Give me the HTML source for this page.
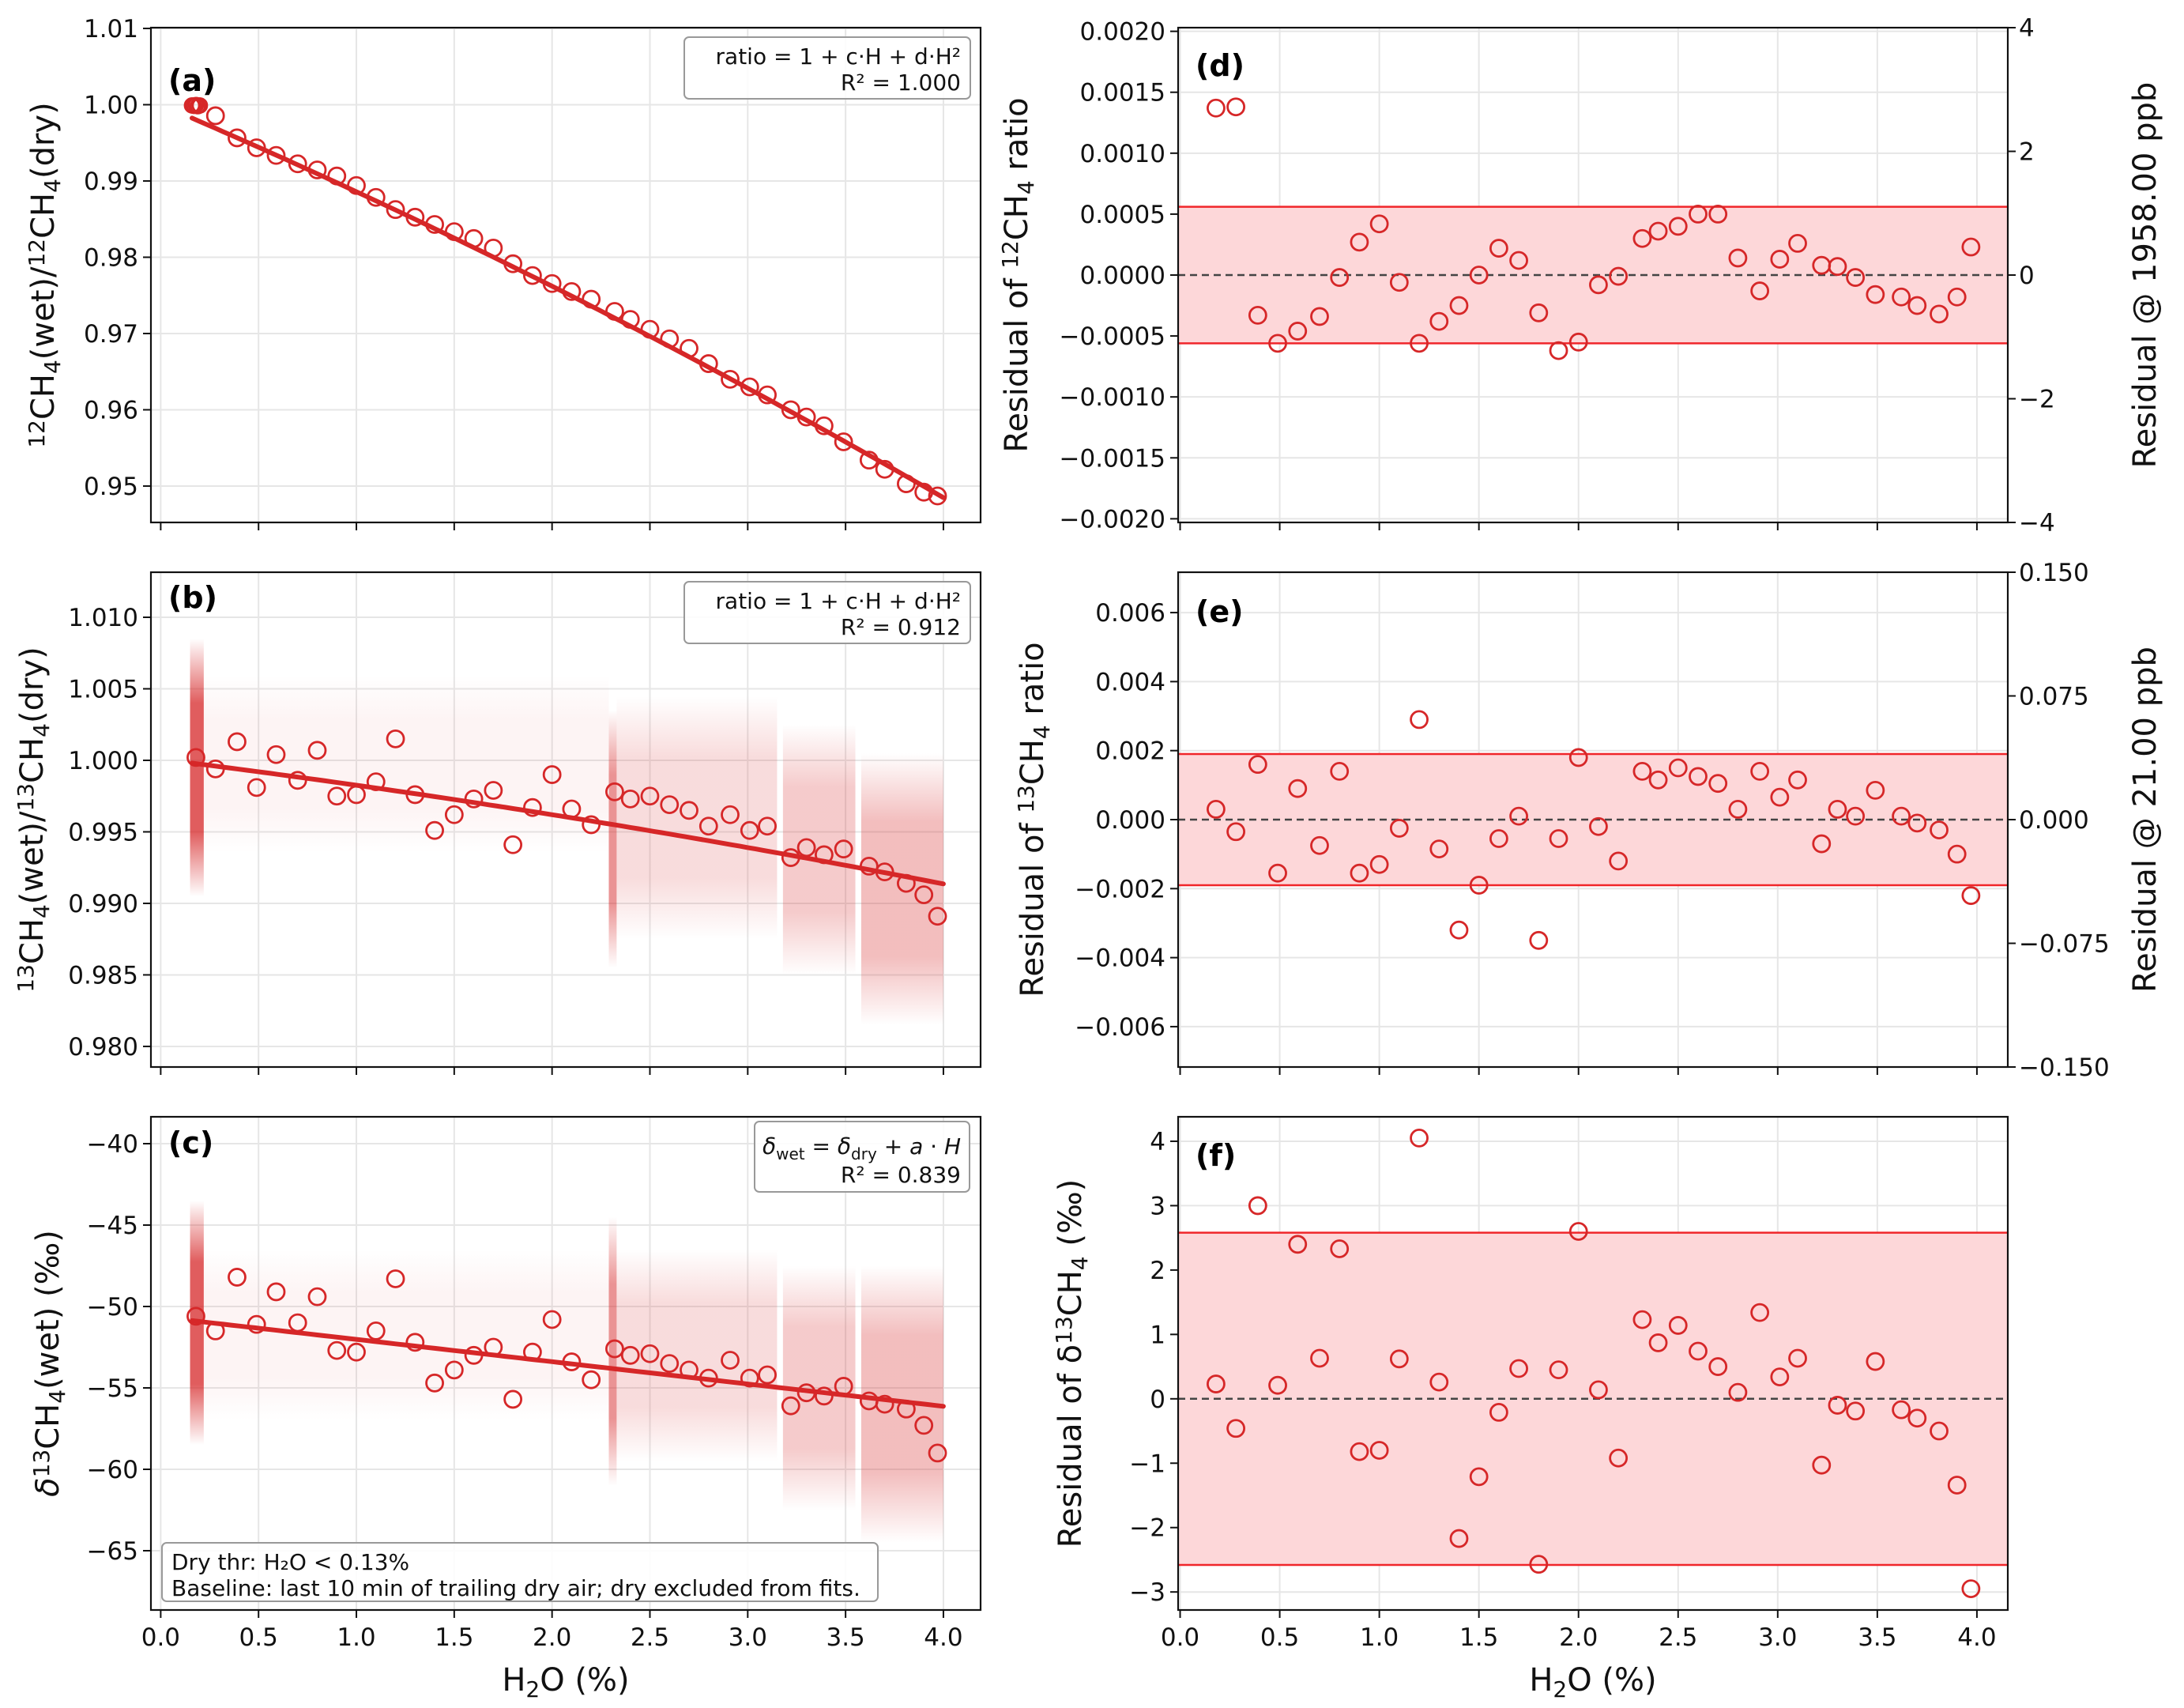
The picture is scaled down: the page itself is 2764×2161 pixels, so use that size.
<!DOCTYPE html>
<html><head><meta charset="utf-8">
<style>
html,body{margin:0;padding:0;background:#fff;}
svg{display:block;font-family:"DejaVu Sans","Liberation Sans",sans-serif;}
</style></head>
<body>
<svg id="fig" xmlns="http://www.w3.org/2000/svg" width="2764" height="2161" viewBox="0 0 2764 2161">
<defs>
<linearGradient id="fade" x1="0" y1="0" x2="0" y2="1">
<stop offset="0" stop-color="#d62728" stop-opacity="0"/>
<stop offset="0.25" stop-color="#d62728" stop-opacity="1"/>
<stop offset="0.75" stop-color="#d62728" stop-opacity="1"/>
<stop offset="1" stop-color="#d62728" stop-opacity="0"/>
</linearGradient>
</defs>
</svg>
<script>
// ---------- data ----------
const binH2O = [0.18,0.28,0.39,0.49,0.59,0.70,0.80,0.90,1.00,1.10,1.20,1.30,1.40,1.50,1.60,1.70,1.80,1.90,2.00,2.10,2.20,2.32,2.40,2.50,2.60,2.70,2.80,2.91,3.01,3.10,3.22,3.30,3.39,3.49,3.62,3.70,3.81,3.90,3.97];
const resid12 = [0.00137,0.00138,-0.00033,-0.00056,-0.00046,-0.00034,-0.00002,0.00027,0.00042,-0.00006,-0.00056,-0.00038,-0.00025,0.0,0.00022,0.00012,-0.00031,-0.00062,-0.00055,-0.00008,-0.00001,0.00030,0.00036,0.00040,0.00050,0.00050,0.00014,-0.00013,0.00013,0.00026,0.00008,0.00007,-0.00002,-0.00016,-0.00018,-0.00025,-0.00032,-0.00018,0.00023];
const resid13 = [0.0003,-0.00035,0.0016,-0.00155,0.0009,-0.00075,0.0014,-0.00155,-0.0013,-0.00025,0.0029,-0.00085,-0.0032,-0.0019,-0.00055,0.0001,-0.0035,-0.00055,0.0018,-0.0002,-0.0012,0.0014,0.00115,0.0015,0.00125,0.00105,0.0003,0.0014,0.00065,0.00115,-0.0007,0.0003,0.0001,0.00085,0.0001,-0.0001,-0.0003,-0.001,-0.0022];
const residDelta = [0.23,-0.46,3.0,0.21,2.4,0.63,2.33,-0.82,-0.8,0.62,4.05,0.26,-2.17,-1.21,-0.21,0.47,-2.57,0.45,2.6,0.14,-0.92,1.23,0.87,1.14,0.74,0.5,0.1,1.34,0.34,0.63,-1.03,-0.1,-0.19,0.58,-0.17,-0.3,-0.5,-1.34,-2.95];
const ratio12 = [0.99995,0.99855,0.99565,0.99435,0.99335,0.99225,0.99145,0.99065,0.98940,0.98785,0.98625,0.98525,0.98430,0.98335,0.98245,0.98120,0.97915,0.97760,0.97655,0.97550,0.97450,0.97290,0.97185,0.97055,0.96930,0.96805,0.96605,0.96400,0.96300,0.96195,0.96000,0.95905,0.95790,0.95580,0.95340,0.95220,0.95030,0.94920,0.94870];
const ratio13 = [1.0002,0.9994,1.0013,0.9981,1.0004,0.9986,1.0007,0.9975,0.9976,0.9985,1.0015,0.9976,0.9951,0.9962,0.9973,0.9979,0.9941,0.9967,0.9990,0.9966,0.9955,0.9978,0.9973,0.9975,0.9969,0.9965,0.9954,0.9962,0.9951,0.9954,0.9932,0.9939,0.9934,0.9938,0.9926,0.9922,0.9914,0.9906,0.9891];
const deltaWet = [-50.6,-51.5,-48.2,-51.1,-49.1,-51.0,-49.4,-52.7,-52.8,-51.5,-48.3,-52.2,-54.7,-53.9,-53.0,-52.5,-55.7,-52.8,-50.8,-53.4,-54.5,-52.6,-53.0,-52.9,-53.5,-53.9,-54.4,-53.3,-54.4,-54.2,-56.1,-55.3,-55.5,-54.9,-55.8,-56.0,-56.3,-57.3,-59.0];
const dryH2O = [0.16,0.17,0.18,0.19,0.20];
const dry12 = [0.99990,0.99985,0.99995,0.99980,0.99990];
// fit coefficients
const fit12 = [1, -0.01092, -0.00049];
const fit13 = [1.00008, -0.0017, -0.00012];
const fitDelta = [-50.65, -1.37];
// cloud clusters (H2O range, value range, density)
const cloudX0 = [0.15,2.29,2.33,3.18,3.58,0.20];
const cloudX1 = [0.22,2.33,3.15,3.55,4.00,2.29];
const cloud13Lo = [0.9905,0.9855,0.9875,0.9850,0.9815,0.9935];
const cloud13Hi = [1.0085,1.0035,1.0045,1.0025,1.0005,1.0060];
const cloudDLo = [-58.5,-61,-59.5,-62.5,-64.5,-57];
const cloudDHi = [-43.5,-44.5,-46.5,-47.5,-47.5,-46.5];
const cloudAlpha = [0.75,0.5,0.16,0.24,0.3,0.05];
// bands
const band12 = 0.00056, band13 = 0.0019, bandDelta = 2.58;
// ticks
const xTicks = [0.0,0.5,1.0,1.5,2.0,2.5,3.0,3.5,4.0];
const xTickLabels = ["0.0","0.5","1.0","1.5","2.0","2.5","3.0","3.5","4.0"];
const aTicks = [0.95,0.96,0.97,0.98,0.99,1.00,1.01];
const aLabels = ["0.95","0.96","0.97","0.98","0.99","1.00","1.01"];
const bTicks = [0.980,0.985,0.990,0.995,1.000,1.005,1.010];
const bLabels = ["0.980","0.985","0.990","0.995","1.000","1.005","1.010"];
const cTicks = [-65,-60,-55,-50,-45,-40];
const cLabels = ["\u221265","\u221260","\u221255","\u221250","\u221245","\u221240"];
const dTicks = [-0.002,-0.0015,-0.001,-0.0005,0,0.0005,0.001,0.0015,0.002];
const dLabels = ["\u22120.0020","\u22120.0015","\u22120.0010","\u22120.0005","0.0000","0.0005","0.0010","0.0015","0.0020"];
const dRTicks = [-4,-2,0,2,4];
const dRLabels = ["\u22124","\u22122","0","2","4"];
const eTicks = [-0.006,-0.004,-0.002,0,0.002,0.004,0.006];
const eLabels = ["\u22120.006","\u22120.004","\u22120.002","0.000","0.002","0.004","0.006"];
const eRTicks = [-0.15,-0.075,0,0.075,0.15];
const eRLabels = ["\u22120.150","\u22120.075","0.000","0.075","0.150"];
const fTicks = [-3,-2,-1,0,1,2,3,4];
const fLabels = ["\u22123","\u22122","\u22121","0","1","2","3","4"];

// ---------- drawing ----------
const NS = "http://www.w3.org/2000/svg";
const svg = document.getElementById('fig');
const RED = "#d62728";
function el(tag, attrs, parent){
  const e = document.createElementNS(NS, tag);
  for (const k in attrs) e.setAttribute(k, attrs[k]);
  (parent||svg).appendChild(e);
  return e;
}
function txt(s, attrs, parent){ const t = el('text', attrs, parent); t.textContent = s; return t; }

function panel(cfg){
  const g = el('g', {});
  
  
  const X = v => cfg.x0 + (v - cfg.xmin) / (cfg.xmax - cfg.xmin) * (cfg.x1 - cfg.x0);
  const Y = v => cfg.y1 - (v - cfg.ymin) / (cfg.ymax - cfg.ymin) * (cfg.y1 - cfg.y0);
  const grid = el('g', {}, g);
  
  
  xTicks.forEach(t => el('line', {x1:X(t), x2:X(t), y1:cfg.y0, y2:cfg.y1, stroke:'#e6e6e6', 'stroke-width':2}, grid));
  cfg.yTicks.forEach(t => el('line', {x1:cfg.x0, x2:cfg.x1, y1:Y(t), y2:Y(t), stroke:'#e6e6e6', 'stroke-width':2}, grid));
  return {g, X, Y, cfg};
}
function finishPanel(p, showXLabels){
  const {g, X, Y, cfg} = p;
  const frame = el('rect', {x:cfg.x0, y:cfg.y0, width:cfg.x1-cfg.x0, height:cfg.y1-cfg.y0, fill:'none', stroke:'#111', 'stroke-width':2.2}, g);
  
  
  const xa = el('g', {}, g);
  
  
  xTicks.forEach((t,i) => {
    el('line', {x1:X(t), x2:X(t), y1:cfg.y1, y2:cfg.y1+10, stroke:'#111', 'stroke-width':2}, xa);
    if (showXLabels) {
      const lb = txt(xTickLabels[i], {x:X(t), y:cfg.y1+45, 'font-size':31, 'text-anchor':'middle', fill:'#111'}, xa);
      
      
    }
  });
  const ya = el('g', {}, g);
  
  
  cfg.yTicks.forEach((t,i) => {
    el('line', {x1:cfg.x0-10, x2:cfg.x0, y1:Y(t), y2:Y(t), stroke:'#111', 'stroke-width':2}, ya);
    const lb = txt(cfg.yLabels[i], {x:cfg.x0-16, y:Y(t)+11, 'font-size':31, 'text-anchor':'end', fill:'#111'}, ya);
    
    
  });
  if (cfg.rTicks) {
    const ra = el('g', {}, g);
    
    
    const RY = v => cfg.y1 - (v - cfg.rmin)/(cfg.rmax-cfg.rmin)*(cfg.y1-cfg.y0);
    cfg.rTicks.forEach((t,i) => {
      el('line', {x1:cfg.x1, x2:cfg.x1+10, y1:RY(t), y2:RY(t), stroke:'#111', 'stroke-width':2}, ra);
      const lb = txt(cfg.rLabels[i], {x:cfg.x1+14, y:RY(t)+11, 'font-size':31, 'text-anchor':'start', fill:'#111'}, ra);
      
      
    });
    const rl = el('text', {transform:`translate(${cfg.rLabelX},${(cfg.y0+cfg.y1)/2}) rotate(-90)`, 'font-size':40, 'text-anchor':'middle', fill:'#111'}, ra);
    rl.textContent = cfg.rLabel;
    
    
  }
  const yl = el('text', {transform:`translate(${cfg.yLabelX},${(cfg.y0+cfg.y1)/2}) rotate(-90)`, 'font-size':40, 'text-anchor':'middle', fill:'#111'}, g);
  yl.innerHTML = cfg.yLabel;
  
  
  const pl = txt(cfg.tag, {x:cfg.x0+22, y:cfg.tagY, 'font-size':38, 'font-weight':'bold', fill:'#000'}, g);
  
  
  if (showXLabels) {
    const xl = el('text', {x:(cfg.x0+cfg.x1)/2, y:cfg.y1+102, 'font-size':40, 'text-anchor':'middle', fill:'#111'}, g);
    xl.innerHTML = 'H<tspan font-size="28" dy="8">2</tspan><tspan dy="-8">O (%)</tspan>';
    
    
  }
}
function circles(p, xs, ys, name, r){
  const grp = el('g', {}, p.g);
  
  
  xs.forEach((x,i) => {
    const c = el('circle', {cx:p.X(x), cy:p.Y(ys[i]), r:r||10.5, fill:'none', stroke:RED, 'stroke-width':2.8}, grp);
    
    
  });
}
function fitLine(p, fn, name){
  let d = '';
  for (let h = 0.16; h <= 4.001; h += 0.04) d += (d ? 'L' : 'M') + p.X(h).toFixed(1) + ',' + p.Y(fn(h)).toFixed(1);
  const l = el('path', {d, fill:'none', stroke:RED, 'stroke-width':6, 'stroke-linecap':'round'}, p.g);
  
  
}
function cloud(p, lo, hi, name){
  const grp = el('g', {}, p.g);
  
  
  cloudX0.forEach((x0,i) => {
    const r = el('rect', {x:p.X(x0), y:p.Y(hi[i]), width:p.X(cloudX1[i])-p.X(x0), height:p.Y(lo[i])-p.Y(hi[i]), fill:'url(#fade)', opacity:cloudAlpha[i]}, grp);
    
    
  });
}
function band(p, b, name){
  const grp = el('g', {}, p.g);
  
  
  el('rect', {x:p.cfg.x0, y:p.Y(b), width:p.cfg.x1-p.cfg.x0, height:p.Y(-b)-p.Y(b), fill:'#fdd7d9'}, grp);
  el('line', {x1:p.cfg.x0, x2:p.cfg.x1, y1:p.Y(b), y2:p.Y(b), stroke:'#f0262a', 'stroke-width':2.5}, grp);
  el('line', {x1:p.cfg.x0, x2:p.cfg.x1, y1:p.Y(-b), y2:p.Y(-b), stroke:'#f0262a', 'stroke-width':2.5}, grp);
  el('line', {x1:p.cfg.x0, x2:p.cfg.x1, y1:p.Y(0), y2:p.Y(0), stroke:'#444', 'stroke-width':2.5, 'stroke-dasharray':'9,6'}, grp);
}
function box(g, x, y, w, h, lines, name, anchor){
  const grp = el('g', {}, g);
  
  
  el('rect', {x, y, width:w, height:h, rx:6, fill:'#fff', 'fill-opacity':0.85, stroke:'#999', 'stroke-width':2}, grp);
  lines.forEach((s,i) => {
    const t = el('text', {x: anchor==='end' ? x+w-12 : x+12, y: y+34+i*33, 'font-size':28, 'text-anchor':anchor||'end', fill:'#111'}, grp);
    t.innerHTML = s;
  });
}

const L0 = 191, L1 = 1241, LXMIN = -0.05, LXMAX = 4.19;
const R0 = 1491, R1 = 2541, RXMIN = -0.01, RXMAX = 4.155;
const ROWS = [[35,661],[724,1350],[1413,2037]];

// (a)
const pa = panel({name:'panel-a-12ch4-ratio', x0:L0, x1:L1, y0:ROWS[0][0], y1:ROWS[0][1], xmin:LXMIN, xmax:LXMAX, ymin:0.94523, ymax:1.0101, yTicks:aTicks});
fitLine(pa, h => fit12[0] + fit12[1]*h + fit12[2]*h*h, 'fit-line');
circles(pa, binH2O.slice(1), ratio12.slice(1), 'binned-points');
circles(pa, dryH2O, dry12, 'dry-points', 9);
box(pa.g, 866, 47, 362, 78, ['ratio = 1 + c·H + d·H²','R² = 1.000'], 'fit-legend-box', 'end');
finishPanel(Object.assign(pa, {cfg:Object.assign(pa.cfg, {yLabels:aLabels, yLabelX:68, tag:'(a)', tagY:115, yLabel:'<tspan font-size="28" dy="-12">12</tspan><tspan dy="12">CH</tspan><tspan font-size="28" dy="8">4</tspan><tspan dy="-8">(wet)/</tspan><tspan font-size="28" dy="-12">12</tspan><tspan dy="12">CH</tspan><tspan font-size="28" dy="8">4</tspan><tspan dy="-8">(dry)</tspan>'})}), false);

// (b)
const pb = panel({name:'panel-b-13ch4-ratio', x0:L0, x1:L1, y0:ROWS[1][0], y1:ROWS[1][1], xmin:LXMIN, xmax:LXMAX, ymin:0.97856, ymax:1.01315, yTicks:bTicks});
cloud(pb, cloud13Lo, cloud13Hi, 'raw-scatter');
fitLine(pb, h => fit13[0] + fit13[1]*h + fit13[2]*h*h, 'fit-line');
circles(pb, binH2O, ratio13, 'binned-points');
box(pb.g, 866, 736, 362, 78, ['ratio = 1 + c·H + d·H²','R² = 0.912'], 'fit-legend-box', 'end');
finishPanel(Object.assign(pb, {cfg:Object.assign(pb.cfg, {yLabels:bLabels, yLabelX:54, tag:'(b)', tagY:769, yLabel:'<tspan font-size="28" dy="-12">13</tspan><tspan dy="12">CH</tspan><tspan font-size="28" dy="8">4</tspan><tspan dy="-8">(wet)/</tspan><tspan font-size="28" dy="-12">13</tspan><tspan dy="12">CH</tspan><tspan font-size="28" dy="8">4</tspan><tspan dy="-8">(dry)</tspan>'})}), false);

// (c)
const pc = panel({name:'panel-c-delta13ch4', x0:L0, x1:L1, y0:ROWS[2][0], y1:ROWS[2][1], xmin:LXMIN, xmax:LXMAX, ymin:-68.64, ymax:-38.35, yTicks:cTicks});
cloud(pc, cloudDLo, cloudDHi, 'raw-scatter');
fitLine(pc, h => fitDelta[0] + fitDelta[1]*h, 'fit-line');
circles(pc, binH2O, deltaWet, 'binned-points');
(function(){
  const grp = el('g', {}, pc.g);
  
  
  el('rect', {x:955, y:1419, width:272, height:89, rx:6, fill:'#fff', 'fill-opacity':0.85, stroke:'#999', 'stroke-width':2}, grp);
  const t1 = el('text', {x:1216, y:1460, 'font-size':28, 'text-anchor':'end', fill:'#111'}, grp);
  t1.innerHTML = '<tspan font-style="italic">δ</tspan><tspan font-size="20" dy="7">wet</tspan><tspan dy="-7"> = </tspan><tspan font-style="italic">δ</tspan><tspan font-size="20" dy="7">dry</tspan><tspan dy="-7"> + </tspan><tspan font-style="italic">a</tspan> · <tspan font-style="italic">H</tspan>';
  txt('R² = 0.839', {x:1216, y:1496, 'font-size':28, 'text-anchor':'end', fill:'#111'}, grp);
})();
box(pc.g, 205, 1952, 906, 74, ['Dry thr:  H₂O &lt; 0.13%','Baseline: last 10 min of trailing dry air; dry excluded from fits.'], 'note-box', 'start');
finishPanel(Object.assign(pc, {cfg:Object.assign(pc.cfg, {yLabels:cLabels, yLabelX:74, tag:'(c)', tagY:1459, yLabel:'<tspan font-style="italic">δ</tspan><tspan font-size="28" dy="-12">13</tspan><tspan dy="12">CH</tspan><tspan font-size="28" dy="8">4</tspan><tspan dy="-8">(wet)  (‰)</tspan>'})}), true);

// (d)
const pd = panel({name:'panel-d-12ch4-residual', x0:R0, x1:R1, y0:ROWS[0][0], y1:ROWS[0][1], xmin:RXMIN, xmax:RXMAX, ymin:-0.00203, ymax:0.00203, yTicks:dTicks});
band(pd, band12, 'residual-band');
circles(pd, binH2O, resid12, 'residual-points');
finishPanel(Object.assign(pd, {cfg:Object.assign(pd.cfg, {yLabels:dLabels, yLabelX:1300, tag:'(d)', tagY:96, rTicks:dRTicks, rLabels:dRLabels, rmin:-4, rmax:4, rLabelX:2728, rLabel:'Residual @ 1958.00 ppb', yLabel:'Residual of <tspan font-size="28" dy="-12">12</tspan><tspan dy="12">CH</tspan><tspan font-size="28" dy="8">4</tspan><tspan dy="-8"> ratio</tspan>'})}), false);

// (e)
const pe = panel({name:'panel-e-13ch4-residual', x0:R0, x1:R1, y0:ROWS[1][0], y1:ROWS[1][1], xmin:RXMIN, xmax:RXMAX, ymin:-0.00717, ymax:0.00717, yTicks:eTicks});
band(pe, band13, 'residual-band');
circles(pe, binH2O, resid13, 'residual-points');
finishPanel(Object.assign(pe, {cfg:Object.assign(pe.cfg, {yLabels:eLabels, yLabelX:1320, tag:'(e)', tagY:787, rTicks:eRTicks, rLabels:eRLabels, rmin:-0.15, rmax:0.15, rLabelX:2728, rLabel:'Residual @ 21.00 ppb', yLabel:'Residual of <tspan font-size="28" dy="-12">13</tspan><tspan dy="12">CH</tspan><tspan font-size="28" dy="8">4</tspan><tspan dy="-8"> ratio</tspan>'})}), false);

// (f)
const pf = panel({name:'panel-f-delta-residual', x0:R0, x1:R1, y0:ROWS[2][0], y1:ROWS[2][1], xmin:RXMIN, xmax:RXMAX, ymin:-3.28, ymax:4.38, yTicks:fTicks});
band(pf, bandDelta, 'residual-band');
circles(pf, binH2O, residDelta, 'residual-points');
finishPanel(Object.assign(pf, {cfg:Object.assign(pf.cfg, {yLabels:fLabels, yLabelX:1368, tag:'(f)', tagY:1475, yLabel:'Residual of δ<tspan font-size="28" dy="-12">13</tspan><tspan dy="12">CH</tspan><tspan font-size="28" dy="8">4</tspan><tspan dy="-8"> (‰)</tspan>'})}), true);
</script>
</body></html>
